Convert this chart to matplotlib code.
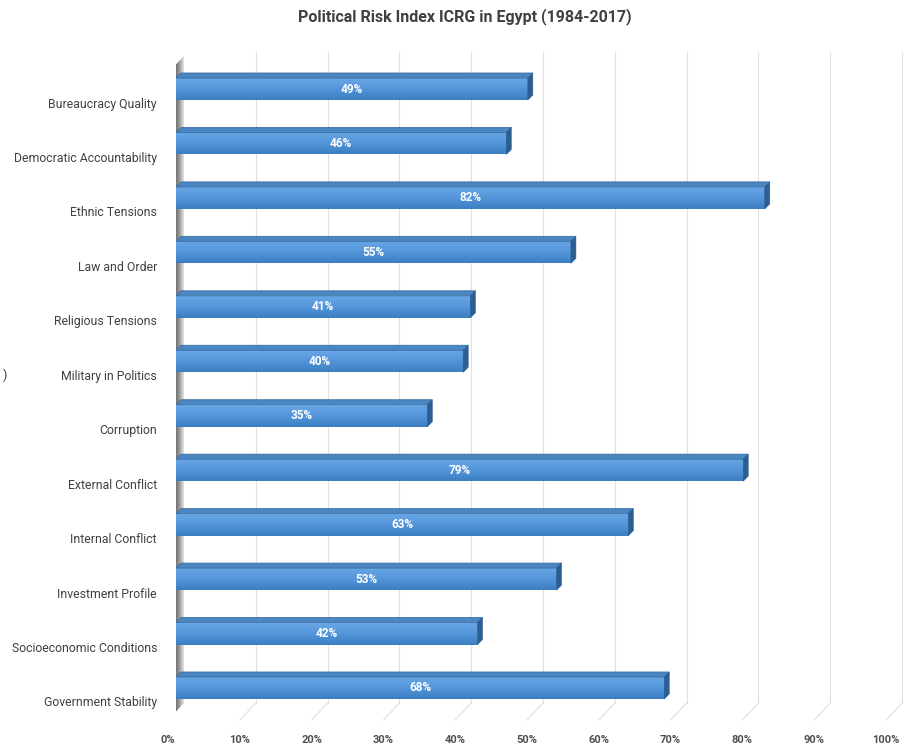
import numpy as np
import matplotlib
matplotlib.use("Agg")
from matplotlib import pyplot as plt
from matplotlib.patches import Polygon
from matplotlib.colors import LinearSegmentedColormap

# %% data (bottom to top)
categories = ["Government Stability", "Socioeconomic Conditions", "Investment Profile",
              "Internal Conflict", "External Conflict", "Corruption", "Military in Politics",
              "Religious Tensions", "Law and Order", "Ethnic Tensions",
              "Democratic Accountability", "Bureaucracy Quality"]
values = [68, 42, 53, 63, 79, 35, 40, 41, 55, 82, 46, 49]
x_ticks = [0, 10, 20, 30, 40, 50, 60, 70, 80, 90, 100]
x_tick_labels = [f"{t}%" for t in x_ticks]
title = "Political Risk Index ICRG in Egypt (1984-2017)"

# %% layout helpers (pixel -> data)
W, H = 914, 748
PX_X = 100 / 718.0       # percent per pixel
PX_Y = 1 / 54.45         # category units per pixel
X0_PX, Y0_PX = 176, 688  # pixel of (0%, first category)

def dx(px):
    return px * PX_X

def dy(px):
    return px * PX_Y

plt.rcParams['font.family'] = ['Roboto', 'DejaVu Sans']

fig = plt.figure(figsize=(W / 100, H / 100), dpi=100)
ax = fig.add_axes([X0_PX / W, 23 / H, 718 / W, 675 / H])
ax.set_xlim(0, 100)
ax.set_ylim(-dy(37), 11 + dy(39))
ax.axis('off')

g = dx(8)
y_back = -dy(15)
y_front = -dy(32)
y_top = dy(636)

# grid lines (back wall + floor)
for t in x_ticks[1:]:
    ax.plot([t + g, t + g], [y_back, y_top], color='#e0e0e0', lw=0.8, clip_on=False, zorder=1)
    ax.plot([t + g, t - g], [y_back, y_front], color='#e0e0e0', lw=0.8, clip_on=False, zorder=1)

# left wall
wall = Polygon([(-g, y_front), (-g, dy(688 - 73)), (g, dy(688 - 56)), (g, y_back)],
               closed=True, facecolor='none', edgecolor='none')
ax.add_patch(wall)
wall_cmap = LinearSegmentedColormap.from_list('wall', ['#9a9a9a', '#5a5a5a', '#8c8c8c', '#e4e4e4'])
im = ax.imshow(np.linspace(0, 1, 64).reshape(1, -1), cmap=wall_cmap, aspect='auto',
               extent=[-g, g, y_front, dy(688 - 56)], zorder=2, clip_on=True)
im.set_clip_path(wall)

# bars
bar_h = dy(22)
ddx, ddy = dx(5), dy(5)
bar_cmap = LinearSegmentedColormap.from_list('bar', ['#3a7fc2', '#5596da', '#6aa8e6'])
for i, v in enumerate(values):
    y = i
    rects = ax.barh(y, v, height=bar_h, left=0, color='#4f92d6', edgecolor='none', zorder=3)
    r = rects[0]
    gi = ax.imshow(np.linspace(0, 1, 64).reshape(-1, 1), cmap=bar_cmap, aspect='auto',
                   origin='lower', extent=[0, v, y - bar_h / 2, y + bar_h / 2], zorder=4)
    gi.set_clip_path(r)
    top = Polygon([(0, y + bar_h / 2), (v, y + bar_h / 2), (v + ddx, y + bar_h / 2 + ddy),
                   (ddx, y + bar_h / 2 + ddy)], closed=True, facecolor='#4a86c2',
                  edgecolor='#3b6fa3', lw=0.6, zorder=5)
    side = Polygon([(v, y - bar_h / 2), (v + ddx, y - bar_h / 2 + ddy),
                    (v + ddx, y + bar_h / 2 + ddy), (v, y + bar_h / 2)], closed=True,
                   facecolor='#2d5e91', edgecolor='#2d5e91', lw=0.4, zorder=5)
    ax.add_patch(top)
    ax.add_patch(side)
    ax.text(v / 2, y, f"{v}%", color='white', fontsize=8.5, fontweight='bold',
            ha='center', va='center', zorder=6)

ax.set_xlim(0, 100)
ax.set_ylim(-dy(37), 11 + dy(39))

# category labels
for i, c in enumerate(categories):
    ax.text(dx(157 - X0_PX), i - dy(15), c, ha='right', va='center', fontsize=8.8,
            color='#404040', clip_on=False)

# x tick labels (front plane)
for t, lab in zip(x_ticks, x_tick_labels):
    ax.text(t - g, -dy(52), lab, ha='center', va='center', fontsize=8,
            fontweight='bold', color='#505050', clip_on=False)

fig.text(465 / W, 1 - 17 / H, title, ha='center', va='center', fontsize=11.5,
         fontweight='bold', color='#404040')
fig.text(5 / W, 1 - 375 / H, ")", ha='center', va='center', fontsize=9, color='#404040')

plt.savefig("out.png", dpi=100)
